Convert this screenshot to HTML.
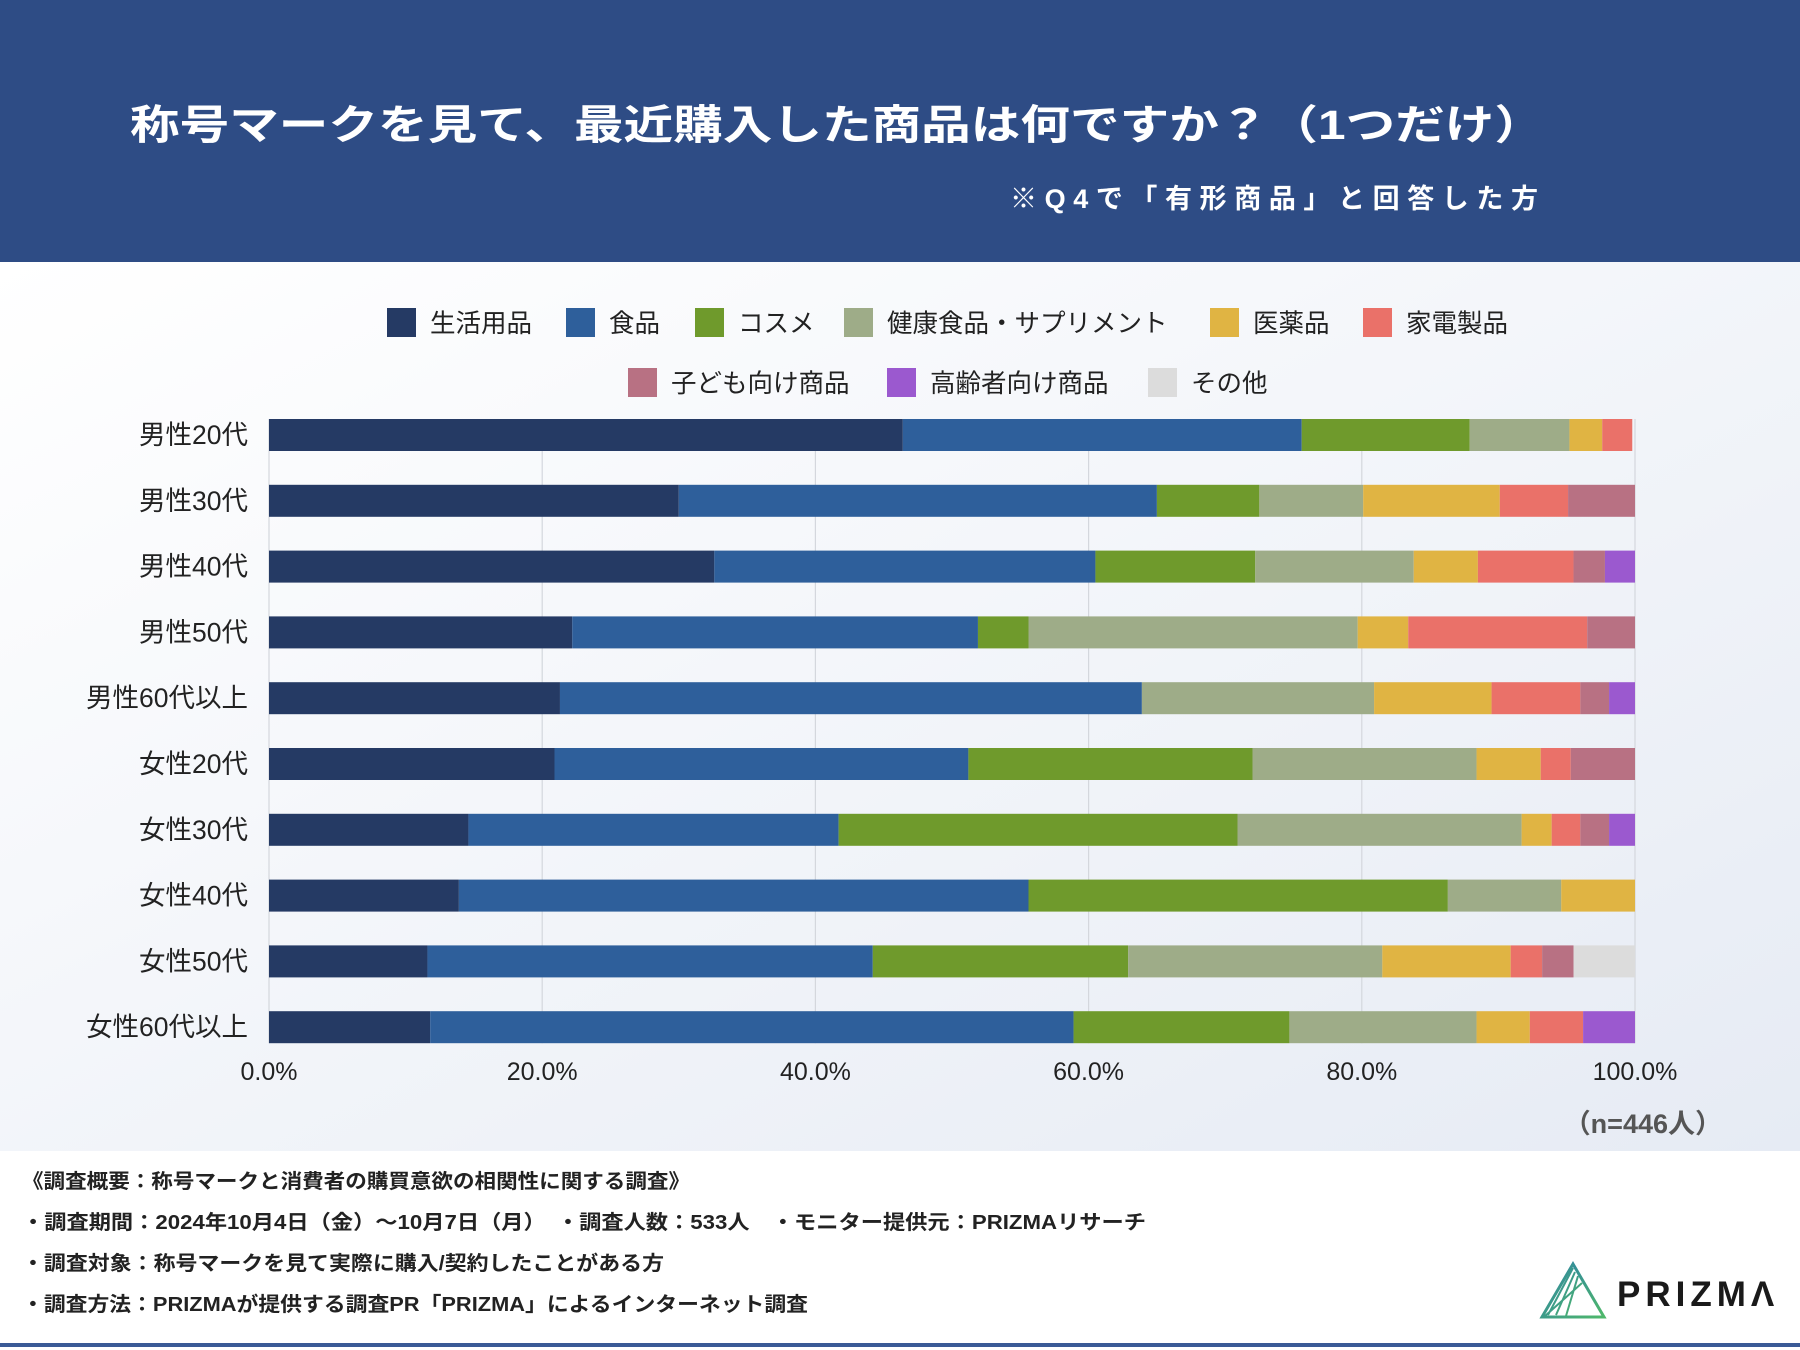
<!DOCTYPE html>
<html><head><meta charset="utf-8">
<style>
html,body{margin:0;padding:0;width:1800px;height:1350px;overflow:hidden;background:#fff}
svg{display:block}
text{font-family:"Liberation Sans","Noto Sans CJK JP",sans-serif}
</style></head>
<body>
<svg id="chart" width="1800" height="1350" viewBox="0 0 1800 1350">
<defs>
<linearGradient id="bg" x1="0" y1="0" x2="1" y2="1">
<stop offset="0" stop-color="#ffffff"/><stop offset="1" stop-color="#e6ebf4"/>
</linearGradient>
<linearGradient id="lg" x1="0" y1="0" x2="1" y2="1">
<stop offset="0" stop-color="#2a7fa8"/><stop offset="1" stop-color="#4fb86a"/>
</linearGradient>
</defs>
<rect x="0" y="262" width="1800" height="889" fill="url(#bg)"/>
<rect x="0" y="0" width="1800" height="262" fill="#2e4c85"/>
<text x="130" y="139" font-size="41" font-weight="bold" fill="#fff" textLength="1414" lengthAdjust="spacingAndGlyphs">称号マークを見て、最近購入した商品は何ですか？（1つだけ）</text>
<text x="1010" y="208" font-size="27" font-weight="bold" fill="#fff" textLength="528" lengthAdjust="spacing">※Q4で「有形商品」と回答した方</text>
<g id="legend"></g>
<g id="grid"></g>
<g id="bars"></g>
<g id="ylabels"></g>
<g id="xlabels"></g>
<text x="1722" y="1133" font-size="27" font-weight="bold" fill="#555" text-anchor="end">（n=446人）</text>
<g font-size="20" font-weight="bold" fill="#222">
<text x="22" y="1188" textLength="668" lengthAdjust="spacingAndGlyphs">《調査概要：称号マークと消費者の購買意欲の相関性に関する調査》</text>
<text x="22" y="1229" textLength="1124" lengthAdjust="spacingAndGlyphs">・調査期間：2024年10月4日（金）～10月7日（月）　・調査人数：533人　・モニター提供元：PRIZMAリサーチ</text>
<text x="22" y="1270" textLength="642" lengthAdjust="spacingAndGlyphs">・調査対象：称号マークを見て実際に購入/契約したことがある方</text>
<text x="22" y="1311" textLength="786" lengthAdjust="spacingAndGlyphs">・調査方法：PRIZMAが提供する調査PR「PRIZMA」によるインターネット調査</text>
</g>
<g>
<polygon points="1573,1264 1604,1317 1542,1317" fill="none" stroke="url(#lg)" stroke-width="3"/>
<path d="M1573,1264 L1542,1317 M1573,1268 L1548,1315 M1575,1272 L1556,1315 M1578,1276 L1566,1316 M1582,1283 L1545,1316" stroke="url(#lg)" stroke-width="2" fill="none"/>
<text x="1617" y="1306" font-size="35" font-weight="bold" fill="#1a1a1a" letter-spacing="5">PRIZMΛ</text>
</g>
<rect x="0" y="1343" width="1800" height="4" fill="#3a5a96"/>
</svg>
<script>
const categories = ["男性20代","男性30代","男性40代","男性50代","男性60代以上","女性20代","女性30代","女性40代","女性50代","女性60代以上"];
const seriesNames = ["生活用品","食品","コスメ","健康食品・サプリメント","医薬品","家電製品","子ども向け商品","高齢者向け商品","その他"];
const seriesColors = ["#253a64","#2e5f9b","#6f9a2c","#9eac88","#e0b443","#ea7169","#b87183","#9b59cf","#dcdcdc"];
const s_daily    = [46.4,30.0,32.6,22.2,21.3,20.9,14.6,13.9,11.6,11.8];
const s_food     = [29.2,35.0,27.9,29.7,42.6,30.3,27.1,41.7,32.6,47.1];
const s_cosme    = [12.3,7.5,11.7,3.7,0,20.8,29.2,30.7,18.7,15.8];
const s_health   = [7.3,7.6,11.6,24.1,17.0,16.4,20.8,8.3,18.6,13.7];
const s_medicine = [2.4,10.0,4.7,3.7,8.6,4.7,2.2,5.4,9.4,3.9];
const s_appliance= [2.2,5.0,7.0,13.1,6.5,2.2,2.1,0,2.3,3.9];
const s_kids     = [0,4.9,2.3,3.5,2.1,4.7,2.1,0,2.3,0];
const s_elderly  = [0,0,2.2,0,1.9,0,1.9,0,0,3.8];
const s_other    = [0,0,0,0,0,0,0,0,4.5,0];
const xTicks = ["0.0%","20.0%","40.0%","60.0%","80.0%","100.0%"];
const series = [s_daily,s_food,s_cosme,s_health,s_medicine,s_appliance,s_kids,s_elderly,s_other];

const NS="http://www.w3.org/2000/svg";
const X0=269, X1=1635, Y0=435, STEP=65.8, BH=32;
const xs = v => X0 + (X1-X0)*v/100;
const ys = i => Y0 + STEP*i;
function mk(tag, attrs, parent){const e=document.createElementNS(NS,tag);for(const k in attrs)e.setAttribute(k,attrs[k]);parent.appendChild(e);return e;}

const grid=document.getElementById('grid');
xTicks.forEach((t,i)=>{
  const x=xs(i*20);
  const l=mk('line',{x1:x,x2:x,y1:ys(0)-BH/2,y2:ys(categories.length-1)+BH/2,stroke:'#d4d7dd','stroke-width':1.2},grid);
  
  
  const tx=mk('text',{x:x,y:1080,'font-size':25,fill:'#222','text-anchor':'middle'},document.getElementById('xlabels'));
  tx.textContent=t;
  
  
});

const bars=document.getElementById('bars'), yl=document.getElementById('ylabels');
categories.forEach((c,i)=>{
  let acc=0;
  series.forEach((s,k)=>{
    const v=s[i];
    if(v>0){
      const r=mk('rect',{x:xs(acc),y:ys(i)-BH/2,width:xs(acc+v)-xs(acc),height:BH,fill:seriesColors[k]},bars);
      
      
    }
    acc+=v;
  });
  const t=mk('text',{x:248,y:ys(i)+9,'font-size':26.5,fill:'#222','text-anchor':'end'},yl);
  t.textContent=c;
  
  
});

const legendPos=[[387,323],[566,323],[695,323],[844,323],[1210,323],[1363,323],[628,383],[887,383],[1148,383]];
const lg=document.getElementById('legend');
seriesNames.forEach((n,k)=>{
  const g=mk('g',{},lg);
  
  
  const [x,y]=legendPos[k];
  mk('rect',{x:x,y:y-15,width:29,height:29,fill:seriesColors[k]},g);
  const t=mk('text',{x:x+43,y:y+9,'font-size':25.5,fill:'#222'},g);
  t.textContent=n;
});
</script>
</body></html>
